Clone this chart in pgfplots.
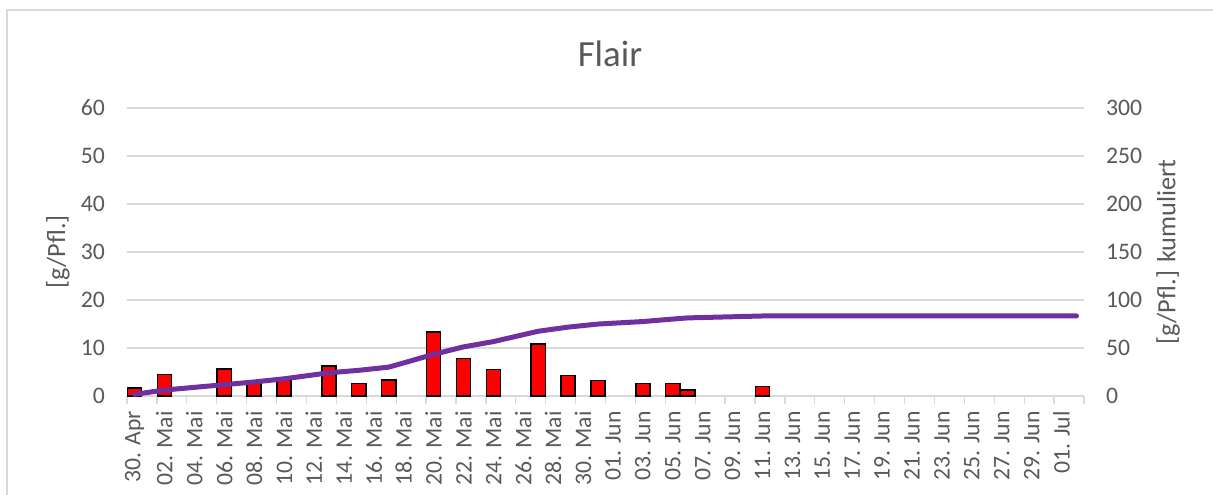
\documentclass[border=0pt]{standalone}
\usepackage{pgfplots}
\pgfplotsset{compat=1.18}
\usepackage{fontspec}
\setmainfont{Carlito}
\definecolor{txt}{HTML}{595959}
\definecolor{grd}{HTML}{D9D9D9}
\definecolor{purp}{HTML}{7030A0}
\begin{document}
\begin{tikzpicture}[x=1pt,y=1pt]
\useasboundingbox (0,0) rectangle (1213,495);
\draw[grd, line width=1.5pt] (7,-5) -- (7,485) -- (1220,485);
\node[txt, font=\fontsize{36.9}{44}\selectfont] at (610,441) {Flair};
\begin{axis}[
  at={(127pt,99pt)}, anchor=south west, scale only axis,
  width=957pt, height=288pt,
  xmin=-0.5, xmax=63.5, ymin=0, ymax=60,
  axis line style={draw=none},
  ytick={0,10,...,60}, ytick pos=left,
  ymajorgrids, major grid style={grd, line width=1.3pt},
  xtick={0,2,...,62},
  xticklabels={30. Apr, 02. Mai, 04. Mai, 06. Mai, 08. Mai, 10. Mai, 12. Mai, 14. Mai, 16. Mai, 18. Mai, 20. Mai, 22. Mai, 24. Mai, 26. Mai, 28. Mai, 30. Mai, 01. Jun, 03. Jun, 05. Jun, 07. Jun, 09. Jun, 11. Jun, 13. Jun, 15. Jun, 17. Jun, 19. Jun, 21. Jun, 23. Jun, 25. Jun, 27. Jun, 29. Jun, 01. Jul},
  minor xtick={-0.5,1.5,...,63.5},
  xtick pos=bottom, tick align=outside,
  major tick length=0pt, minor tick length=8pt,
  minor tick style={grd, line width=1.3pt},
  major tick style={draw=none},
  tick label style={font=\fontsize{23.7}{28}\selectfont, text=txt},
  /pgf/number format/assume math mode=true,
  yticklabel style={inner sep=0pt, anchor=east, xshift=-22pt},
  xticklabel style={inner sep=0pt, rotate=90, anchor=east},
  xticklabel shift=15pt,
  ylabel={[g/Pfl.]},
  ylabel style={at={(axis description cs:-0.0721,0.5)}, anchor=center, font=\fontsize{26.3}{30}\selectfont, text=txt},
  clip=false,
]
\addplot[ybar, bar width=0.95, fill=red, draw=black, line width=1.5pt] coordinates {
(0,1.7) (2,4.5) (6,5.6) (8,2.8) (10,3.3) (13,6.25) (15,2.6) (17,3.3)
(20,13.3) (22,7.8) (24,5.5) (27,10.8) (29,4.3) (31,3.2) (34,2.6)
(36,2.6) (37,1.2) (42,2.0)
};
\end{axis}
\begin{axis}[
  at={(127pt,99pt)}, anchor=south west, scale only axis,
  width=957pt, height=288pt,
  xmin=-0.5, xmax=63.5, ymin=0, ymax=300,
  axis line style={draw=none},
  xtick=\empty,
  ytick={0,50,...,300}, ytick pos=right, yticklabel pos=right,
  major tick length=0pt, major tick style={draw=none},
  tick label style={font=\fontsize{23.7}{28}\selectfont, text=txt},
  /pgf/number format/assume math mode=true,
  yticklabel style={inner sep=0pt, anchor=west, xshift=22pt},
  ylabel={[g/Pfl.] kumuliert},
  ylabel style={at={(axis description cs:1.0878,0.5)}, anchor=center, rotate=0, font=\fontsize{26.3}{30}\selectfont, text=txt},
  clip=false,
]
\addplot[purp, line width=5pt, line join=round, line cap=round] coordinates {
(0,1.7) (2,6.2) (6,11.8) (8,14.6) (10,17.9) (13,24.15) (15,26.75) (17,30.05)
(20,43.35) (22,51.15) (24,56.65) (27,67.45) (29,71.75) (31,74.95) (34,77.55)
(36,80.15) (37,81.35) (42,83.35) (63,83.35)
};
\end{axis}
\end{tikzpicture}
\end{document}
